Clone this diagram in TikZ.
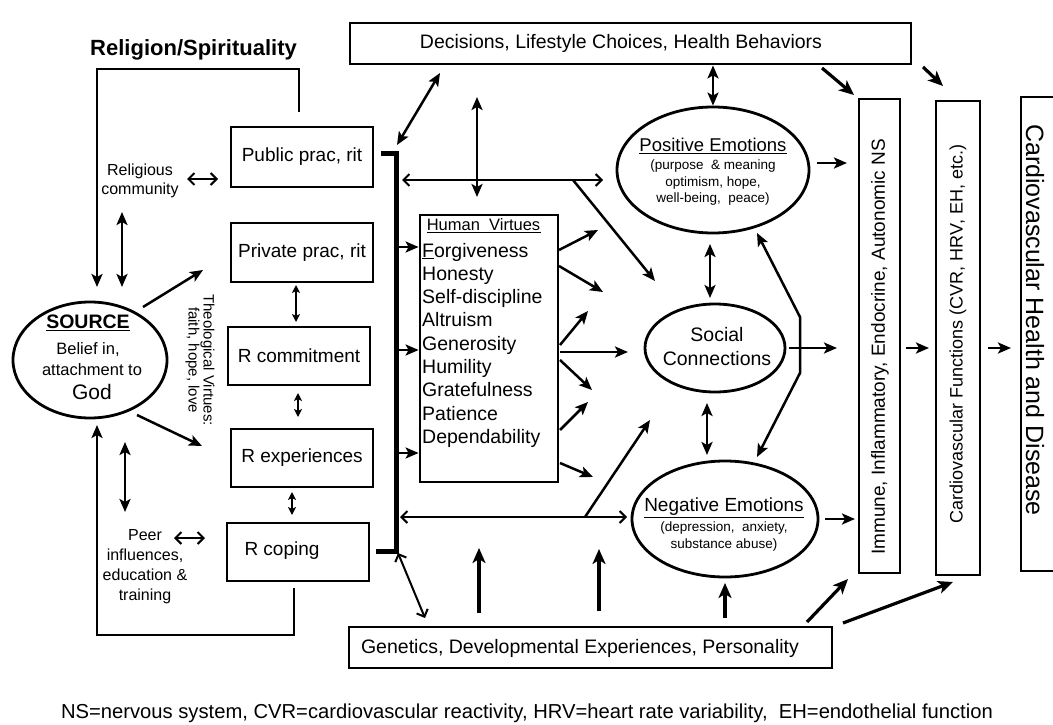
\documentclass[tikz,border=0pt]{standalone}
\usepackage{fontspec}
\setmainfont{Liberation Sans}
\usetikzlibrary{shapes.geometric,arrows.meta,calc}
\newcommand{\fsz}[2]{\fontsize{#1}{#2}\selectfont}
\begin{document}
\begin{tikzpicture}[x=1pt,y=-1pt,
  box/.style={draw,line width=2.8pt,rectangle,inner sep=0pt},
  ell/.style={draw,line width=2.8pt,ellipse,inner sep=0pt},
  txt/.style={inner sep=0pt,align=center},
  thk/.style={line width=3.2pt,-{Stealth[length=15pt,width=13pt,inset=4pt]}},
  med/.style={line width=2.5pt,-{Stealth[length=13pt,width=11pt,inset=3pt]}},
  dmed/.style={line width=2.5pt,{Stealth[length=13pt,width=11pt,inset=3pt]}-{Stealth[length=13pt,width=11pt,inset=3pt]}},
  thn/.style={line width=2pt,-{Straight Barb[length=6pt,width=12pt,line width=2pt]}},
  dthn/.style={line width=2pt,{Straight Barb[length=6pt,width=12pt,line width=2pt]}-{Straight Barb[length=6pt,width=12pt,line width=2pt]}},
  dsm/.style={line width=1.6pt,{Stealth[length=8pt,width=8pt,inset=2pt]}-{Stealth[length=8pt,width=8pt,inset=2pt]}}
]
\useasboundingbox (0,0) rectangle (1053,725);
\fill[white] (0,0) rectangle (1053,725);

% ---------- boxes ----------
\node[box,minimum width=561pt,minimum height=41pt] (dec) at (630.5,43.5) {};
\node[txt,font=\fsz{19.5}{23}] (dectxt) at (621,43) {Decisions, Lifestyle Choices, Health Behaviors};

\node[txt,font=\fsz{22}{26}\bfseries] (title) at (193.5,50) {Religion/Spirituality};

\node[box,minimum width=142pt,minimum height=60pt,font=\fsz{19}{23}] (pub) at (302,157) {Public prac, rit};
\node[box,minimum width=142pt,minimum height=59pt,font=\fsz{19}{23}] (priv) at (302,252.5) {Private prac, rit};
\node[box,minimum width=142pt,minimum height=58pt,font=\fsz{19}{23}] (com) at (299,356) {R commitment};
\node[box,minimum width=142pt,minimum height=58pt,font=\fsz{19}{23}] (exp) at (302,458) {R experiences};
\node[box,minimum width=142pt,minimum height=58pt] (cop) at (298,552) {};
\node[txt,font=\fsz{19}{23}] (coptxt) at (282,551) {R coping};

\node[ell,minimum width=154pt,minimum height=116pt] (src) at (90,360) {};
\node[txt,font=\fsz{19.5}{23}\bfseries] (srct) at (88,323) {\underline{SOURCE}};
\node[txt,font=\fsz{16.5}{20}] (srcb) at (88,350) {Belief in,};
\node[txt,font=\fsz{16.5}{20}] (srca) at (92,370) {attachment to};
\node[txt,font=\fsz{21}{24}] (srcg) at (92,392) {God};

\node[txt,font=\fsz{16}{19}] (relc) at (140,180.5) {Religious\\community};
\node[txt,font=\fsz{16}{20}] (peer) at (145,567) {Peer\\influences,\\education \&\\training};
\node[txt,font=\fsz{15}{15},rotate=-90] (theo) at (200,360) {Theological Virtues:\\faith, hope, love};

% human virtues
\node[box,minimum width=138pt,minimum height=267pt] (hv) at (489,348.5) {};
\node[txt,font=\fsz{16.5}{20}] (hvt) at (484,226) {\underline{Human\ \ Virtues\hspace{1pt}}};
\foreach \t [count=\i] in {\underline{F}orgiveness,Honesty,Self-discipline,Altruism,Generosity,Humility,Gratefulness,Patience,Dependability}
  \node[inner sep=0pt,anchor=base west,font=\fsz{19.5}{23}] at (422,233.7+23.3*\i) {\t};

% emotions
\node[ell,minimum width=192pt,minimum height=126pt] (pos) at (713,170) {};
\node[txt,font=\fsz{18.5}{22}] (post) at (713,146) {\underline{Positive Emotions}};
\node[txt,font=\fsz{13.5}{16.5}] (posl) at (713,183) {(purpose\ \ \& meaning\\optimism, hope,\\well-being,\ \ peace)};

\node[ell,minimum width=140pt,minimum height=88pt] (soc) at (715,348) {};
\node[txt,font=\fsz{19.5}{24}] (soct) at (717,347) {Social\\Connections};

\node[ell,minimum width=186pt,minimum height=116pt] (neg) at (725,519) {};
\node[txt,font=\fsz{19}{22}] (negt) at (724,508) {\underline{Negative Emotions}};
\node[txt,font=\fsz{13.5}{17}] (negl) at (724,536.5) {(depression,\ \ anxiety,\\substance abuse)};

% right column
\node[box,minimum width=41pt,minimum height=474pt] (imm) at (879.5,336) {};
\node[txt,font=\fsz{19}{23},rotate=90] (immt) at (880,347) {Immune, Inflammatory, Endocrine, Autonomic NS};
\node[box,minimum width=44pt,minimum height=474pt] (cv) at (958,338) {};
\node[txt,font=\fsz{18}{22},rotate=90] (cvt) at (958,334) {Cardiovascular Functions (CVR, HRV, EH, etc.)};
\node[box,minimum width=60pt,minimum height=474pt] (chd) at (1051,334) {};
\node[txt,font=\fsz{25}{29},rotate=-90] (chdt) at (1035,320) {Cardiovascular Health and Disease};

% genetics
\node[box,minimum width=483pt,minimum height=41pt] (gen) at (590.5,647.5) {};
\node[txt,font=\fsz{19.5}{23}] (gent) at (580,648) {Genetics, Developmental Experiences, Personality};

\node[txt,font=\fsz{20.2}{24}] (foot) at (527,713) {NS=nervous system, CVR=cardiovascular reactivity, HRV=heart rate variability,\ \ EH=endothelial function};

% ---------- connectors ----------
% left brackets
\draw[med] ([xshift=-3pt,yshift=14pt]pub.north) |- (97,69) -- (97,287);
\draw[med] ([xshift=-4pt,yshift=-6pt]cop.south) |- (97,635) -- (97,425);
\draw[dmed] (122,212) -- (122,287);
\draw[dmed] (125,442) -- (125,512);
\draw[dthn] (187,179) -- (218,179);
\draw[dthn] (174,538) -- (205,538);
\draw[med] (143,307) -- (203,270);
\draw[med] (137,415) -- (202,446);
\draw[dsm] (296,285) -- (296,322);
\draw[dsm] (298,393) -- (298,417);
\draw[dsm] (292,492) -- (292,515);

% thick bar
\coordinate (bt) at (396,153);
\coordinate (bb) at (396,551);
\draw[line width=5pt] (381,153) -- (bt) -- (bb) -- (376,551);
\draw[med] (397,247) -- (hv.west |- 0,247);
\draw[med] (397,350) -- (hv.west |- 0,350);
\draw[med] (397,453) -- (hv.west |- 0,453);

% middle
\draw[dmed] (440,73) -- (397,145);
\draw[dmed] (477,97) -- (477,197);
\draw[dthn] (402,180) -- (603,180);
\draw[med] (573,180) -- (655,281);
\draw[dthn] (400,517) -- (627,517);
\draw[med] (585,517) -- (650,420);
\draw[dthn] (398,553) -- (425,618);
\draw[thk] (479,613) -- (479,548);
\draw[thk] (599,611) -- (599,549);
\draw[thk] (725,618) -- (725,583);

% virtues fan
\draw[med] (559,250) -- (598,230);
\draw[med] (559,266) -- (603,292);
\draw[med] (560,345) -- (588,311);
\draw[med] (560,352) -- (628,352);
\draw[med] (560,360) -- (592,390);
\draw[med] (560,430) -- (588,402);
\draw[med] (560,463) -- (593,477);

% emotions
\draw[dmed] (dec.south -| 713,0) -- (pos.north);
\draw[dmed] (710,244) -- (710,298);
\draw[dmed] (707,403) -- (707,455);
\draw[line width=2.5pt,{Stealth[length=13pt,width=11pt,inset=3pt]}-{Stealth[length=13pt,width=11pt,inset=3pt]}] (757,233) -- (800,317) -- (800,373) -- (757,457);
\draw[med] (817,163) -- (847,163);
\draw[med] (789,348) -- (837,348);
\draw[med] (825,519) -- (855,519);
\draw[med] (906,348) -- (929,348);
\draw[med] (988,348) -- (1011,348);

\draw[thk] (822,68) -- (854,95);
\draw[thk] (923,67) -- (943,86);
\draw[thk] (807,622) -- (848,579);
\draw[thk] (843,623) -- (953,582);
\end{tikzpicture}
\end{document}
